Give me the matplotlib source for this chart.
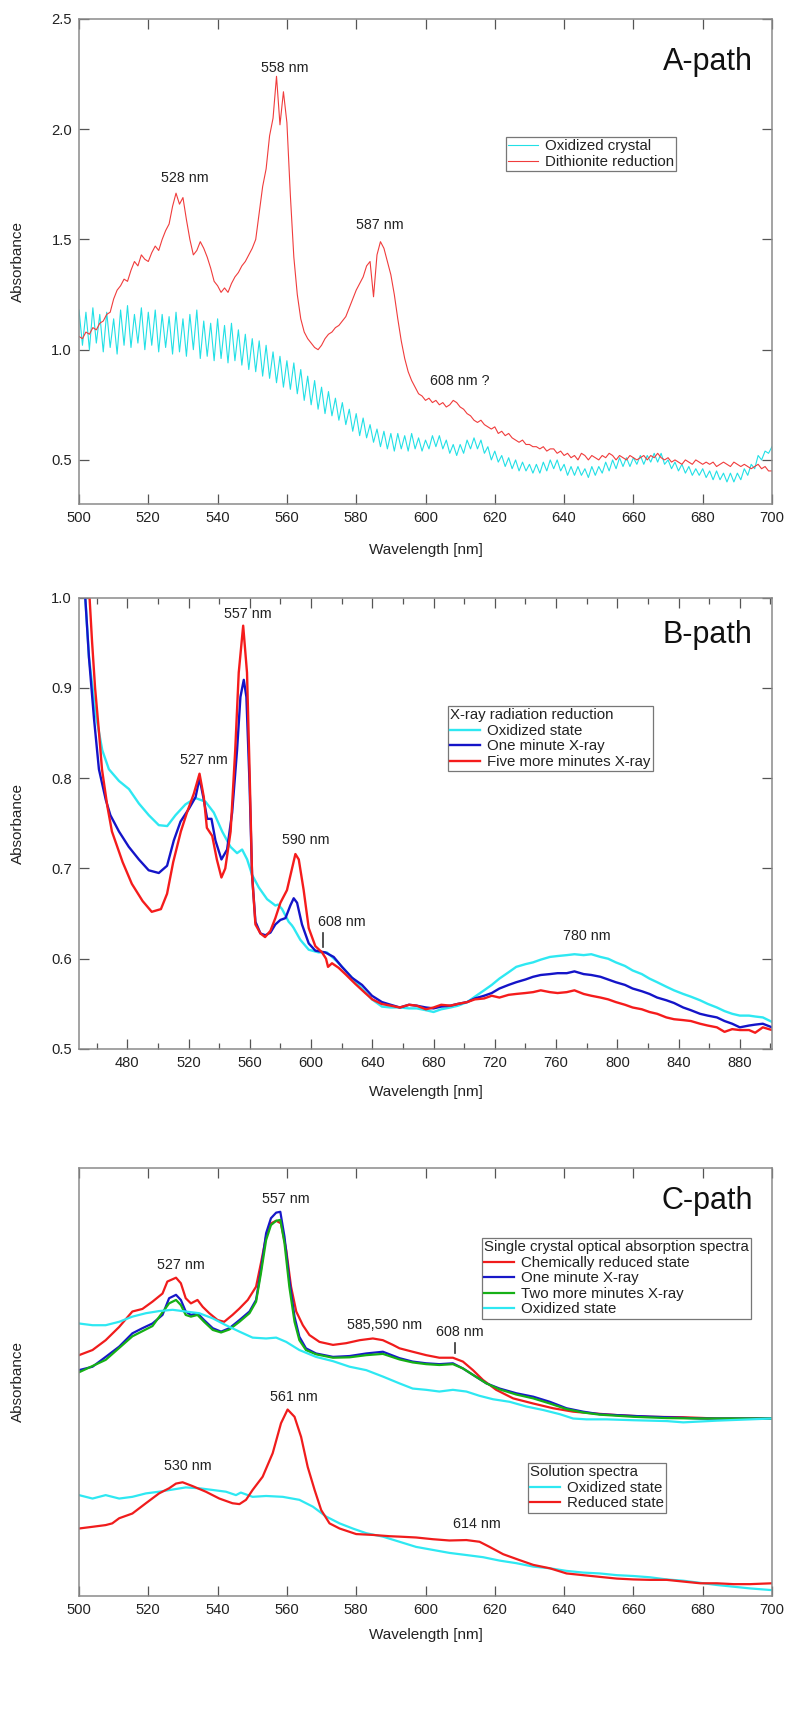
import numpy as np
import matplotlib
matplotlib.use("Agg")
import matplotlib.pyplot as plt
from matplotlib.ticker import MultipleLocator, FormatStrFormatter

plt.rcParams['font.family'] = ['Liberation Sans', 'DejaVu Sans']

# ---------------- Panel A data (1 nm steps, 500..700) ----------------
a_wavelength = np.arange(500, 701)
a_oxidized_crystal = [
    1.18, 1.02, 1.17, 1.00, 1.19, 1.03, 1.16, 0.99, 1.17, 1.01,
    1.14, 0.98, 1.18, 1.02, 1.20, 1.01, 1.16, 1.03, 1.19, 1.00,
    1.17, 1.02, 1.18, 0.99, 1.16, 1.01, 1.15, 0.98, 1.17, 0.99,
    1.14, 0.97, 1.16, 1.00, 1.18, 0.96, 1.13, 0.97, 1.12, 0.95,
    1.14, 0.96, 1.11, 0.94, 1.12, 0.95, 1.09, 0.93, 1.07, 0.91,
    1.05, 0.90, 1.04, 0.88, 1.02, 0.87, 0.99, 0.85, 0.97, 0.83,
    0.95, 0.82, 0.94, 0.80, 0.91, 0.77, 0.88, 0.75, 0.86, 0.73,
    0.83, 0.71, 0.81, 0.70, 0.78, 0.68, 0.76, 0.66, 0.73, 0.63,
    0.71, 0.61, 0.69, 0.60, 0.66, 0.58, 0.64, 0.56, 0.63, 0.55,
    0.62, 0.54, 0.62, 0.55, 0.61, 0.54, 0.62, 0.55, 0.60, 0.54,
    0.59, 0.55, 0.61, 0.56, 0.61, 0.55, 0.59, 0.53, 0.57, 0.52,
    0.57, 0.53, 0.59, 0.55, 0.60, 0.55, 0.59, 0.53, 0.56, 0.50,
    0.54, 0.49, 0.52, 0.47, 0.51, 0.46, 0.50, 0.45, 0.49, 0.45,
    0.48, 0.44, 0.48, 0.44, 0.49, 0.45, 0.50, 0.46, 0.50, 0.45,
    0.48, 0.43, 0.47, 0.43, 0.47, 0.43, 0.46, 0.42, 0.47, 0.43,
    0.47, 0.44, 0.49, 0.45, 0.50, 0.46, 0.51, 0.47, 0.51, 0.47,
    0.51, 0.48, 0.52, 0.48, 0.52, 0.49, 0.53, 0.49, 0.53, 0.48,
    0.50, 0.46, 0.49, 0.45, 0.48, 0.44, 0.47, 0.43, 0.46, 0.43,
    0.46, 0.42, 0.45, 0.41, 0.45, 0.41, 0.44, 0.40, 0.44, 0.40,
    0.44, 0.41, 0.46, 0.43, 0.48, 0.46, 0.52, 0.50, 0.54, 0.53,
    0.56]
a_dithionite = [
    1.06, 1.05, 1.08, 1.07, 1.10, 1.09, 1.12, 1.13, 1.16, 1.17,
    1.23, 1.27, 1.29, 1.32, 1.31, 1.36, 1.40, 1.38, 1.43, 1.41,
    1.40, 1.44, 1.47, 1.45, 1.50, 1.54, 1.57, 1.65, 1.71, 1.66,
    1.69, 1.59, 1.50, 1.43, 1.45, 1.49, 1.46, 1.42, 1.37, 1.31,
    1.29, 1.26, 1.28, 1.26, 1.30, 1.33, 1.35, 1.38, 1.40, 1.43,
    1.46, 1.50, 1.62, 1.74, 1.82, 1.97, 2.05, 2.24, 2.02, 2.17,
    2.03, 1.70, 1.42, 1.25, 1.14, 1.08, 1.05, 1.03, 1.01, 1.00,
    1.02, 1.05, 1.07, 1.08, 1.10, 1.11, 1.13, 1.15, 1.19, 1.23,
    1.27, 1.30, 1.33, 1.38, 1.40, 1.24, 1.43, 1.49, 1.46, 1.40,
    1.34, 1.25, 1.14, 1.04, 0.96, 0.90, 0.86, 0.83, 0.80, 0.79,
    0.77, 0.78, 0.76, 0.77, 0.75, 0.76, 0.74, 0.75, 0.77, 0.76,
    0.74, 0.73, 0.71, 0.70, 0.68, 0.67, 0.68, 0.66, 0.65, 0.64,
    0.65, 0.62, 0.63, 0.61, 0.62, 0.60, 0.59, 0.58, 0.59, 0.57,
    0.57, 0.56, 0.56, 0.55, 0.56, 0.54, 0.55, 0.55, 0.53, 0.54,
    0.52, 0.53, 0.51, 0.52, 0.50, 0.53, 0.52, 0.50, 0.52, 0.51,
    0.50, 0.52, 0.51, 0.53, 0.52, 0.50, 0.52, 0.51, 0.50, 0.52,
    0.51, 0.50, 0.51, 0.52, 0.50, 0.52, 0.51, 0.53, 0.51, 0.50,
    0.51, 0.49, 0.50, 0.49, 0.48, 0.50, 0.49, 0.48, 0.50, 0.49,
    0.48, 0.49, 0.48, 0.49, 0.47, 0.48, 0.49, 0.48, 0.47, 0.49,
    0.48, 0.47, 0.48, 0.47, 0.46, 0.47, 0.48, 0.46, 0.47, 0.45,
    0.45]
a_labels = ["528 nm", "558 nm", "587 nm", "608 nm ?"]
a_label_pos = [(530.6, 1.777), (559.5, 2.277), (586.9, 1.565), (610.0, 0.859)]

# ---------------- Panel B data ----------------
b_ox_wl = [450, 452.6, 455, 459.3, 463.7, 468, 474.6, 481.1, 487.6, 494.1, 500.6, 506.1, 511.5, 518,
           524.6, 531.1, 536.5, 542, 547.4, 551.7, 555, 558.3, 561.5, 565.9, 571.3, 576.7, 578.5,
           581.1, 585.4, 587.5, 588.7, 593, 598.5, 605, 610.4, 617, 624.6, 632.2, 639.8, 646.3,
           652, 658, 664, 669, 675, 680, 685, 691, 696, 702, 707, 713, 718, 723, 729, 734, 740,
           745, 750, 756, 761, 767, 772, 778, 783, 789, 794, 799, 805, 810, 816, 821, 826, 832,
           837, 843, 848, 854, 859, 865, 870, 875, 880, 886, 890, 895, 901]
b_ox = [1.08, 1.0, 0.934, 0.872, 0.831, 0.81, 0.797, 0.788, 0.772, 0.759, 0.748, 0.747, 0.759, 0.771,
        0.778, 0.774, 0.762, 0.741, 0.724, 0.717, 0.721, 0.71, 0.693, 0.679, 0.666, 0.659, 0.660,
        0.655, 0.641, 0.637, 0.634, 0.621, 0.61, 0.607, 0.607, 0.597, 0.583, 0.569, 0.555, 0.547,
        0.546, 0.546, 0.545, 0.545, 0.543, 0.541, 0.544, 0.546, 0.548, 0.552, 0.558, 0.565,
        0.571, 0.578, 0.585, 0.591, 0.594, 0.596, 0.599, 0.602, 0.603, 0.604, 0.605, 0.604,
        0.605, 0.602, 0.600, 0.596, 0.592, 0.587, 0.583, 0.578, 0.574, 0.569, 0.565, 0.561,
        0.558, 0.554, 0.550, 0.546, 0.542, 0.539, 0.537, 0.537, 0.536, 0.535, 0.530]
b_one_wl = [450, 452.6, 455, 458.3, 461.5, 466, 469, 474.6, 481, 487.6, 494, 500.6, 506, 510.4, 514.8,
            520.2, 524.6, 527.2, 530, 532.2, 535, 537.6, 541.5, 545.2, 548.5, 551.7, 553.9, 556.1,
            557.8, 559.8, 561.5, 563.7, 567, 570.2, 573.5, 576.7, 580, 583.3, 586.5, 588.7, 590.9,
            594.1, 598.5, 602.8, 609.3, 614.8, 620.2, 626.7, 633.3, 639.8, 646.3, 652, 658, 664,
            669, 675, 680, 685, 691, 696, 702, 707, 713, 718, 723, 729, 734, 740, 745, 750, 756,
            761, 767, 772, 778, 783, 789, 794, 799, 805, 810, 816, 821, 826, 832, 837, 843, 848,
            854, 859, 865, 870, 875, 880, 886, 890, 895, 901]
b_one = [1.08, 1.0, 0.934, 0.866, 0.81, 0.776, 0.759, 0.741, 0.724, 0.71, 0.698, 0.695, 0.703, 0.731,
         0.752, 0.766, 0.779, 0.80, 0.776, 0.755, 0.755, 0.731, 0.71, 0.721, 0.762, 0.831, 0.89,
         0.909, 0.89, 0.797, 0.693, 0.641, 0.628, 0.626, 0.629, 0.638, 0.643, 0.645, 0.659, 0.667,
         0.662, 0.638, 0.617, 0.609, 0.607, 0.602, 0.591, 0.579, 0.571, 0.559, 0.552, 0.549,
         0.546, 0.549, 0.548, 0.546, 0.545, 0.547, 0.548, 0.550, 0.552, 0.556, 0.559, 0.562,
         0.567, 0.571, 0.574, 0.577, 0.580, 0.582, 0.583, 0.584, 0.584, 0.586, 0.583, 0.582,
         0.580, 0.577, 0.574, 0.571, 0.567, 0.564, 0.561, 0.557, 0.554, 0.551, 0.546, 0.543,
         0.539, 0.537, 0.535, 0.531, 0.528, 0.524, 0.526, 0.527, 0.528, 0.524]
b_five_wl = [451, 455.4, 457, 459, 461.5, 463.5, 467, 470, 477, 483, 490, 496, 502, 506, 510, 515,
             519, 523.5, 527.2, 530, 532, 535.5, 538.5, 541.5, 544, 547.5, 550.5, 552.8, 555.7,
             558.2, 559.8, 561.5, 563.7, 567, 570, 573.5, 576.7, 580, 584.3, 587.6, 589.8, 592,
             595.2, 598.5, 602.8, 607.2, 609.8, 611.1, 613.7, 618, 622.4, 629, 635.4, 640, 646,
             652, 658, 664, 669, 675, 680, 685, 691, 696, 702, 707, 713, 718, 723, 729, 734, 740,
             745, 750, 756, 761, 767, 772, 778, 783, 789, 794, 799, 805, 810, 816, 821, 826, 832,
             837, 843, 848, 854, 859, 865, 870, 875, 880, 886, 890, 895, 901]
b_five = [1.09, 1.0, 0.952, 0.90, 0.852, 0.81, 0.769, 0.741, 0.707, 0.683, 0.664, 0.652, 0.655, 0.672,
          0.707, 0.741, 0.762, 0.783, 0.805, 0.779, 0.745, 0.736, 0.710, 0.690, 0.70, 0.741, 0.831,
          0.917, 0.969, 0.917, 0.814, 0.693, 0.638, 0.628, 0.624, 0.631, 0.645, 0.662, 0.676, 0.70,
          0.716, 0.710, 0.676, 0.634, 0.614, 0.607, 0.600, 0.591, 0.595, 0.590, 0.583, 0.572,
          0.562, 0.555, 0.550, 0.548, 0.546, 0.549, 0.548, 0.544, 0.546, 0.549, 0.548, 0.550,
          0.552, 0.555, 0.556, 0.559, 0.557, 0.560, 0.561, 0.562, 0.563, 0.565, 0.563, 0.562,
          0.563, 0.565, 0.561, 0.559, 0.557, 0.555, 0.552, 0.549, 0.546, 0.544, 0.541, 0.539,
          0.535, 0.533, 0.532, 0.531, 0.528, 0.526, 0.524, 0.519, 0.522, 0.521, 0.521, 0.518,
          0.524, 0.521]
b_labels = ["527 nm", "557 nm", "590 nm", "608 nm", "780 nm"]
b_label_pos = [(530.1, 0.82), (559.0, 0.982), (596.4, 0.732), (619.8, 0.641), (780.1, 0.625)]
b_mark_608 = (607.8, 0.613, 0.628)

# ---------------- Panel C data (arbitrary absorbance units) ----------------
c_chem_wl = [500, 503.9, 507.7, 511.6, 515.4, 518.3, 521.2, 524.1, 525.5, 528, 529.4, 530.8, 532.3,
             534.2, 535.7, 537.6, 540, 541.9, 544.3, 546.3, 548.7, 551.1, 552.5, 554, 555.4, 556.9,
             558.3, 559.8, 561.2, 562.7, 564.6, 566.5, 569.4, 573.3, 577.1, 581, 584.8, 587.7,
             590.6, 592.5, 596.3, 600.2, 604, 607.9, 610.8, 613.7, 616.6, 620.4, 625.3, 631.1,
             636.8, 642.6, 648.4, 655.2, 664.8, 674.4, 684.1, 693.7, 700]
c_chem = [0.562, 0.574, 0.597, 0.628, 0.664, 0.67, 0.687, 0.706, 0.734, 0.743, 0.73, 0.695, 0.683,
          0.691, 0.675, 0.66, 0.644, 0.64, 0.656, 0.671, 0.691, 0.722, 0.777, 0.839, 0.87, 0.876,
          0.87, 0.808, 0.722, 0.664, 0.632, 0.609, 0.593, 0.586, 0.59, 0.597, 0.601, 0.597,
          0.586, 0.578, 0.57, 0.562, 0.556, 0.556, 0.547, 0.527, 0.504, 0.481, 0.461, 0.449,
          0.438, 0.43, 0.426, 0.422, 0.418, 0.417, 0.414, 0.414, 0.414]
c_one_wl = [500, 503.9, 507.7, 511.6, 515.4, 518.3, 521.2, 524.1, 526, 528, 529.4, 530.8, 532.3,
            534.2, 536.1, 538.6, 541, 543.4, 546.3, 549.2, 551.1, 552.5, 554, 555.4, 556.9, 558.1,
            559.3, 560.7, 562.2, 563.6, 565.5, 568.4, 573.3, 578.1, 582.9, 587.7, 592.5, 596.3,
            600.2, 604, 607.9, 610.8, 613.7, 617.6, 621.4, 626.2, 631.1, 635.9, 640.7, 645.5,
            650.3, 660, 669.6, 679.3, 688.9, 700]
c_one = [0.527, 0.535, 0.558, 0.582, 0.613, 0.625, 0.636, 0.656, 0.695, 0.703, 0.691, 0.664, 0.656,
         0.66, 0.644, 0.625, 0.617, 0.625, 0.644, 0.664, 0.691, 0.761, 0.847, 0.882, 0.895, 0.897,
         0.839, 0.738, 0.652, 0.605, 0.578, 0.566, 0.558, 0.56, 0.566, 0.57, 0.555, 0.547, 0.543,
         0.541, 0.543, 0.531, 0.516, 0.496, 0.484, 0.473, 0.465, 0.453, 0.438, 0.43, 0.424, 0.42,
         0.417, 0.414, 0.414, 0.414]
c_two_wl = [500, 507.7, 515.4, 521.2, 526, 528, 529.4, 530.8, 532.3, 534.2, 536.1, 538.6, 541, 543.4,
            546.3, 549.2, 551.1, 552.5, 554, 555.4, 556.9, 558.1, 559.3, 560.7, 562.2, 563.6, 565.5,
            568.4, 573.3, 578.1, 582.9, 587.7, 592.5, 596.3, 600.2, 604, 607.9, 610.8, 613.7,
            617.6, 621.4, 626.2, 631.1, 635.9, 640.7, 645.5, 650.3, 660, 669.6, 679.3, 688.9, 700]
c_two = [0.522, 0.551, 0.606, 0.63, 0.683, 0.691, 0.679, 0.656, 0.652, 0.656, 0.64, 0.621, 0.615,
         0.622, 0.64, 0.66, 0.687, 0.753, 0.831, 0.866, 0.876, 0.878, 0.824, 0.722, 0.64, 0.597,
         0.574, 0.564, 0.556, 0.557, 0.562, 0.565, 0.552, 0.545, 0.541, 0.539, 0.541, 0.531,
         0.516, 0.496, 0.482, 0.47, 0.461, 0.449, 0.436, 0.428, 0.423, 0.418, 0.415, 0.414,
         0.414, 0.414]
c_ox_wl = [500, 503.9, 507.7, 511.6, 515.4, 519.3, 523.1, 527, 530.8, 534.7, 538.6, 542.4, 546.3,
           550.1, 554, 556.9, 559.8, 563.6, 568.4, 573.3, 578.1, 582.9, 587.7, 592.5, 596.3, 600.2,
           604, 607.9, 611.8, 615.6, 619.5, 624.3, 629.1, 633.9, 638.8, 642.6, 646.5, 652.3, 660,
           669.6, 674.4, 679.3, 684.1, 693.7, 700]
c_ox = [0.636, 0.632, 0.632, 0.64, 0.652, 0.66, 0.665, 0.668, 0.664, 0.66, 0.648, 0.632, 0.617,
        0.603, 0.601, 0.603, 0.593, 0.574, 0.558, 0.548, 0.535, 0.527, 0.512, 0.496, 0.484, 0.481,
        0.477, 0.481, 0.477, 0.467, 0.459, 0.453, 0.442, 0.434, 0.424, 0.414, 0.412, 0.412, 0.41,
        0.408, 0.405, 0.407, 0.409, 0.412, 0.414]
sol_ox_wl = [500, 503.9, 507.7, 511.6, 515.4, 519.3, 523.1, 527, 530.8, 534.7, 538.6, 542.4, 545.3,
             546.7, 550.1, 554, 558.8, 563.6, 567.5, 571.3, 575.2, 579, 582.9, 587.7, 592.5, 597.3,
             602.1, 606.9, 611.8, 616.6, 621.4, 626.2, 631.1, 635.9, 640.7, 645.5, 650.3, 655.2,
             660, 664.8, 669.6, 674.4, 679.3, 684.1, 688.9, 693.7, 700]
sol_ox = [0.235, 0.227, 0.235, 0.227, 0.231, 0.239, 0.243, 0.248, 0.253, 0.251, 0.247, 0.243, 0.235,
          0.241, 0.231, 0.233, 0.231, 0.224, 0.208, 0.185, 0.169, 0.157, 0.146, 0.138, 0.126, 0.114,
          0.107, 0.1, 0.095, 0.09, 0.082, 0.076, 0.068, 0.064, 0.058, 0.054, 0.052, 0.048, 0.046,
          0.043, 0.038, 0.035, 0.03, 0.025, 0.021, 0.017, 0.013]
sol_red_wl = [500, 503.9, 507.7, 509.6, 511.6, 515.4, 519.3, 523.1, 526, 528, 529.9, 532.8, 536.6,
              540.5, 544.3, 546.3, 548.2, 550.1, 553, 555.9, 558.3, 560.2, 562.2, 564.1, 566, 568,
              569.9, 572.3, 575.2, 580, 584.8, 589.6, 592.5, 597.3, 602.1, 606.9, 611.8, 615.6,
              618.5, 622.4, 627.2, 631.1, 635.9, 640.7, 645.5, 650.3, 655.2, 660, 664.8, 669.6,
              674.4, 679.3, 684.1, 688.9, 693.7, 700]
sol_red = [0.157, 0.161, 0.165, 0.169, 0.181, 0.192, 0.216, 0.239, 0.251, 0.262, 0.265, 0.256, 0.243,
           0.227, 0.216, 0.214, 0.224, 0.247, 0.278, 0.333, 0.403, 0.435, 0.418, 0.371, 0.301,
           0.247, 0.2, 0.169, 0.157, 0.144, 0.142, 0.139, 0.138, 0.136, 0.132, 0.129, 0.13, 0.126,
           0.114, 0.097, 0.083, 0.072, 0.064, 0.052, 0.048, 0.044, 0.04, 0.038, 0.037, 0.037,
           0.033, 0.029, 0.029, 0.027, 0.027, 0.029]
c_labels = ["527 nm", "557 nm", "585,590 nm", "608 nm", "530 nm", "561 nm", "614 nm"]
c_label_pos = [(529.4, 0.773), (559.8, 0.928), (588.3, 0.632), (609.8, 0.617),
               (531.4, 0.303), (562.0, 0.465), (614.9, 0.167)]
c_mark_608 = (608.4, 0.566, 0.590)

# ---------------- styling ----------------
W, H = 796, 1723
fig = plt.figure(figsize=(W / 100, H / 100), dpi=100)

def fig_axes(left, top, right, bottom):
    return fig.add_axes([left / W, 1 - bottom / H, (right - left) / W, (bottom - top) / H])

SPINE = '#8a8a8a'
TXT = '#222222'
LEG_FS = 10.8
PEAK_FS = 10.3

def style(ax, yticks=True):
    for s in ax.spines.values():
        s.set_color(SPINE)
        s.set_linewidth(1.1)
    ax.tick_params(which='both', direction='in', top=True, right=yticks, left=yticks,
                   color='#555555', labelcolor=TXT, labelsize=10.6, pad=5)
    ax.tick_params(which='major', length=7, width=0.9)
    ax.tick_params(which='minor', length=4.5, width=0.9)
    if not yticks:
        ax.set_yticks([])

def labels(ax, top_px, bottom_px, xlab_center_px):
    h = bottom_px - top_px
    ax.set_xlabel('Wavelength [nm]', fontsize=11, color=TXT)
    ax.xaxis.set_label_coords(0.5, (bottom_px - (xlab_center_px - 7)) / h)
    ax.set_ylabel('Absorbance', fontsize=11, color=TXT)
    ax.yaxis.set_label_coords((25 - 79) / 693, 0.5)

def legend(ax, handles, title, x, y):
    leg = ax.legend(handles=handles, title=title, loc='upper left', bbox_to_anchor=(x, y),
                    borderaxespad=0, fontsize=LEG_FS, title_fontsize=LEG_FS, frameon=True,
                    fancybox=False, edgecolor='#555555', handlelength=2.0, handletextpad=0.45,
                    labelspacing=0.1, borderpad=0.15, alignment='left')
    leg.get_frame().set_linewidth(0.9)
    for t in leg.get_texts():
        t.set_color(TXT)
    leg.get_title().set_color(TXT)
    return leg

# ---------------- Panel A ----------------
axA = fig_axes(79, 19, 772, 504)
lA1, = axA.plot(a_wavelength, a_oxidized_crystal, color='#22e0e6', lw=0.8, label='Oxidized crystal')
lA2, = axA.plot(a_wavelength, a_dithionite, color='#f03c3c', lw=0.8, label='Dithionite reduction')
axA.set_xlim(500, 700)
axA.set_ylim(0.3, 2.5)
axA.xaxis.set_major_locator(MultipleLocator(20))
axA.yaxis.set_major_locator(MultipleLocator(0.5))
axA.yaxis.set_major_formatter(FormatStrFormatter('%.1f'))
style(axA)
labels(axA, 19, 504, 550)
for txt, (x, y) in zip(a_labels, a_label_pos):
    axA.text(x, y, txt, ha='center', va='center', fontsize=PEAK_FS, color=TXT)
axA.text(0.907, 0.912, 'A-path', transform=axA.transAxes, ha='center', va='center', fontsize=22,
         color='#111111')
legend(axA, [lA1, lA2], None, (506 - 79) / 693, (504 - 137) / 485)

# ---------------- Panel B ----------------
axB = fig_axes(79, 597.7, 772, 1049)
lB1, = axB.plot(b_ox_wl, b_ox, color='#2ee8f2', lw=1.7, label='Oxidized state')
lB2, = axB.plot(b_one_wl, b_one, color='#1414c8', lw=1.7, label='One minute X-ray')
lB3, = axB.plot(b_five_wl, b_five, color='#f51c1c', lw=1.7, label='Five more minutes X-ray')
axB.set_xlim(448.5, 901)
axB.set_ylim(0.5, 1.0)
axB.xaxis.set_major_locator(MultipleLocator(40))
axB.xaxis.set_minor_locator(MultipleLocator(20))
axB.yaxis.set_major_locator(MultipleLocator(0.1))
axB.yaxis.set_major_formatter(FormatStrFormatter('%.1f'))
style(axB)
labels(axB, 597.7, 1049, 1092)
for txt, (x, y) in zip(b_labels, b_label_pos):
    axB.text(x, y, txt, ha='center', va='center', fontsize=PEAK_FS, color=TXT)
axB.plot([b_mark_608[0]] * 2, b_mark_608[1:], color='#333333', lw=1.2)
axB.text(0.907, 0.917, 'B-path', transform=axB.transAxes, ha='center', va='center', fontsize=22,
         color='#111111')
legend(axB, [lB1, lB2, lB3], 'X-ray radiation reduction', (448 - 79) / 693,
       (1049 - 706) / 451.3)

# ---------------- Panel C ----------------
axC = fig_axes(79, 1167.7, 772, 1595.7)
lC1, = axC.plot(c_chem_wl, c_chem, color='#f01c1c', lw=1.6, label='Chemically reduced state')
lC2, = axC.plot(c_one_wl, c_one, color='#1818c8', lw=1.6, label='One minute X-ray')
lC3, = axC.plot(c_two_wl, c_two, color='#16b016', lw=1.6, label='Two more minutes X-ray')
lC4, = axC.plot(c_ox_wl, c_ox, color='#2ee8f2', lw=1.6, label='Oxidized state')
lS1, = axC.plot(sol_ox_wl, sol_ox, color='#2ee8f2', lw=1.6, label='Oxidized state')
lS2, = axC.plot(sol_red_wl, sol_red, color='#f01c1c', lw=1.6, label='Reduced state')
axC.set_xlim(500, 700)
axC.set_ylim(0, 1)
axC.xaxis.set_major_locator(MultipleLocator(20))
style(axC, yticks=False)
labels(axC, 1167.7, 1595.7, 1635)
for txt, (x, y) in zip(c_labels, c_label_pos):
    axC.text(x, y, txt, ha='center', va='center', fontsize=PEAK_FS, color=TXT)
axC.plot([c_mark_608[0]] * 2, c_mark_608[1:], color='#333333', lw=1.2)
axC.text(0.907, 0.923, 'C-path', transform=axC.transAxes, ha='center', va='center', fontsize=22,
         color='#111111')
legC1 = legend(axC, [lC1, lC2, lC3, lC4], 'Single crystal optical absorption spectra',
               (482 - 79) / 693, (1595.7 - 1238) / 428)
axC.add_artist(legC1)
legend(axC, [lS1, lS2], 'Solution spectra', (528 - 79) / 693, (1595.7 - 1463) / 428)

fig.savefig('out.png', dpi=100)
